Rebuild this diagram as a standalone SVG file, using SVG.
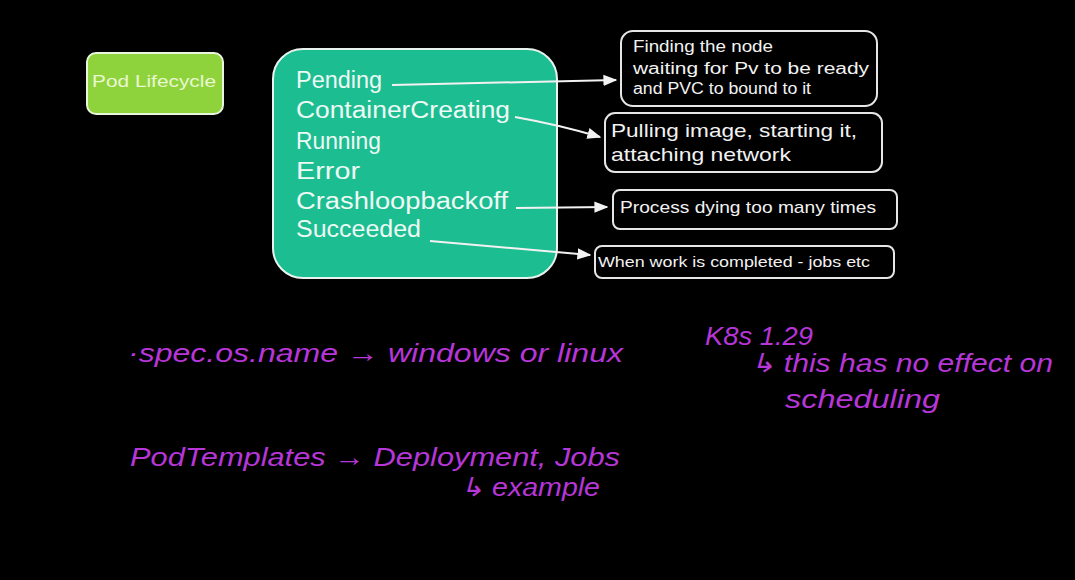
<svg xmlns="http://www.w3.org/2000/svg" width="1075" height="580" viewBox="0 0 1075 580">
<defs>
<marker id="ah" viewBox="0 0 10 10" refX="9" refY="5" markerWidth="7" markerHeight="7" orient="auto-start-reverse"><path d="M0,1 L10,5 L0,9 z" fill="#f2f2f2"/></marker>
<style>
.w{font-family:"Liberation Sans",Arial,sans-serif;fill:#f2f2f2}
.st{font-size:23px;fill:#eefaf4}
.nb{fill:none;stroke:#e6e6e6;stroke-width:2}
.mg{font-family:"Liberation Sans",Arial,sans-serif;fill:#b636d8;font-style:italic;font-size:26px}
.cn{fill:none;stroke:#f2f2f2;stroke-width:2;marker-end:url(#ah)}
</style>
</defs>
<rect width="1075" height="580" fill="#000"/>
<g id="pod-lifecycle">
<rect x="87" y="53" width="136" height="61" rx="9" fill="#8fd33c" stroke="#e9f5dc" stroke-width="2"/>
<text x="92" y="87" class="w" style="font-size:17px;fill:#e9f7d2" textLength="124" lengthAdjust="spacingAndGlyphs">Pod Lifecycle</text>
</g>
<g id="states">
<rect x="273" y="49" width="284" height="229" rx="30" fill="#1dbd92" stroke="#e8f3ee" stroke-width="2"/>
<text x="296" y="88" class="w st" textLength="86" lengthAdjust="spacingAndGlyphs">Pending</text>
<text x="296" y="118" class="w st" textLength="214" lengthAdjust="spacingAndGlyphs">ContainerCreating</text>
<text x="296" y="149" class="w st" textLength="85" lengthAdjust="spacingAndGlyphs">Running</text>
<text x="296" y="179" class="w st" textLength="64" lengthAdjust="spacingAndGlyphs">Error</text>
<text x="296" y="209" class="w st" textLength="212" lengthAdjust="spacingAndGlyphs">Crashloopbackoff</text>
<text x="296" y="237" class="w st" textLength="125" lengthAdjust="spacingAndGlyphs">Succeeded</text>
</g>
<g id="pending-desc">
<rect x="621" y="31" width="256" height="75" rx="12" class="nb"/>
<text x="633" y="52" class="w" style="font-size:16px" textLength="140" lengthAdjust="spacingAndGlyphs">Finding the node</text>
<text x="633" y="74" class="w" style="font-size:16px" textLength="236" lengthAdjust="spacingAndGlyphs">waiting for Pv to be ready</text>
<text x="633" y="94" class="w" style="font-size:16px" textLength="178" lengthAdjust="spacingAndGlyphs">and PVC to bound to it</text>
</g>
<g id="creating-desc">
<rect x="605" y="113" width="277" height="59" rx="10" class="nb"/>
<text x="611" y="137" class="w" style="font-size:19px" textLength="246" lengthAdjust="spacingAndGlyphs">Pulling image, starting it,</text>
<text x="611" y="161" class="w" style="font-size:19px" textLength="180" lengthAdjust="spacingAndGlyphs">attaching network</text>
</g>
<g id="crash-desc">
<rect x="613" y="190" width="284" height="39" rx="7" class="nb"/>
<text x="620" y="213" class="w" style="font-size:17px" textLength="256" lengthAdjust="spacingAndGlyphs">Process dying too many times</text>
</g>
<g id="succeeded-desc">
<rect x="595" y="246" width="299" height="32" rx="7" class="nb"/>
<text x="598" y="267" class="w" style="font-size:15px" textLength="272" lengthAdjust="spacingAndGlyphs">When work is completed - jobs etc</text>
</g>
<g id="connectors">
<path d="M392,85 L616,80" class="cn"/>
<path d="M515,117 Q560,125 600,137" class="cn"/>
<path d="M516,208 L607,207" class="cn"/>
<path d="M430,241 L590,255" class="cn"/>
</g>
<g id="notes">
<text x="128" y="362" class="mg" textLength="495" lengthAdjust="spacingAndGlyphs">·spec.os.name → windows or linux</text>
<text x="705" y="345" class="mg" textLength="108" lengthAdjust="spacingAndGlyphs">K8s 1.29</text>
<text x="750" y="372" class="mg" textLength="303" lengthAdjust="spacingAndGlyphs">↳ this has no effect on</text>
<text x="785" y="408" class="mg" textLength="155" lengthAdjust="spacingAndGlyphs">scheduling</text>
<text x="130" y="466" class="mg" textLength="490" lengthAdjust="spacingAndGlyphs">PodTemplates → Deployment, Jobs</text>
<text x="460" y="496" class="mg" textLength="140" lengthAdjust="spacingAndGlyphs">↳ example</text>
</g>
</svg>
